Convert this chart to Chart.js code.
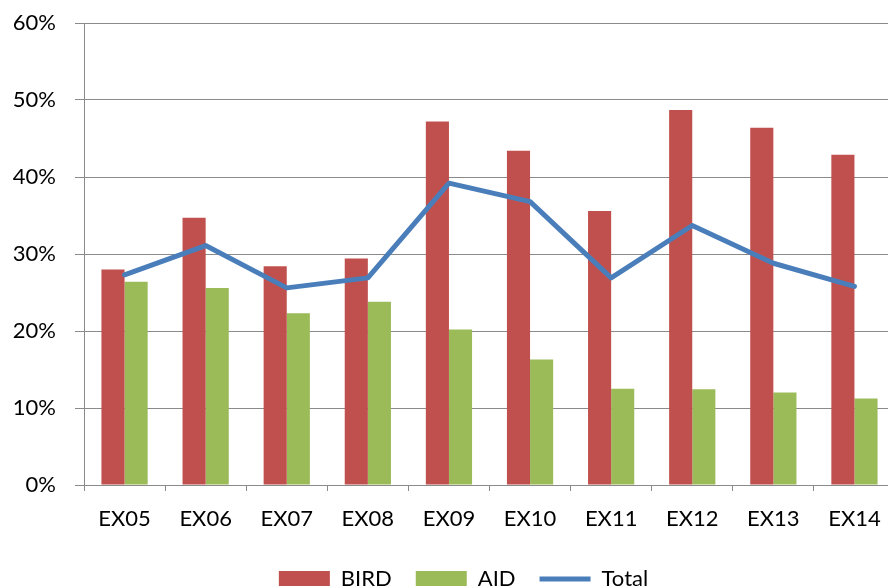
<!DOCTYPE html>
<html>
<head>
<meta charset="utf-8">
<script src="https://cdn.jsdelivr.net/npm/chart.js@4/dist/chart.umd.min.js"></script>
<style>
  html, body { margin:0; padding:0; background:#fff; overflow:hidden; }
  #wrap { width:900px; height:600px; }
</style>
</head>
<body>
<div id="wrap"><canvas id="chart" width="900" height="600"></canvas></div>
<script>
// data (percent)
const categories = ['EX05','EX06','EX07','EX08','EX09','EX10','EX11','EX12','EX13','EX14'];
const birdValues = [28.0, 34.7, 28.4, 29.4, 47.2, 43.4, 35.6, 48.7, 46.4, 42.9];
const aidValues  = [26.4, 25.6, 22.3, 23.8, 20.2, 16.3, 12.5, 12.45, 12.0, 11.25];
const totalValues = [27.3, 31.1, 25.6, 26.9, 39.2, 36.8, 26.9, 33.7, 28.8, 25.8];
const yTicks = [0, 10, 20, 30, 40, 50, 60];
const legendOrder = ['BIRD', 'AID', 'Total'];

const font = { family: 'Lato, "Open Sans", sans-serif', size: 22 };
const gridGrey = '#8a8a8a';

// nudge the legend a bit to the right, like the original
const legendShift = {
  id: 'legendShift',
  afterLayout(chart) {
    chart.legend.left += 16;
    chart.legend.right += 16;
  }
};

new Chart(document.getElementById('chart'), {
  type: 'bar',
  data: {
    labels: categories,
    datasets: [
      { type:'line', label:'Total', data: totalValues, borderColor:'#4a7ebb', backgroundColor:'#4a7ebb',
        borderWidth:5, borderCapStyle:'round', borderJoinStyle:'round', pointRadius:0, tension:0,
        pointStyle:'line', order:0 },
      { label:'BIRD', data: birdValues, backgroundColor:'#c0504d', borderWidth:0, pointStyle:'rect', order:1 },
      { label:'AID', data: aidValues, backgroundColor:'#9bbb59', borderWidth:0, pointStyle:'rect', order:2 }
    ]
  },
  options: {
    responsive:false,
    animation:false,
    layout: { padding: { top:23, right:5, left:0, bottom:0 } },
    datasets: { bar: { categoryPercentage:0.57, barPercentage:1.0 } },
    scales: {
      x: {
        offset:true,
        grid: { offset:true, drawOnChartArea:false, drawTicks:true, tickLength:6, color:gridGrey, lineWidth:1 },
        border: { color:gridGrey, width:1 },
        ticks: { color:'#000', font, padding:15, maxRotation:0 },
        afterFit(scale) { scale.height = 59; }
      },
      y: {
        min:0, max:60,
        afterBuildTicks(scale) { scale.ticks = yTicks.map(v => ({ value:v })); },
        grid: { color:gridGrey, lineWidth:1, tickLength:9 },
        border: { color:gridGrey, width:1 },
        ticks: { color:'#000', font, padding:19, callback: v => v + '%' },
        afterFit(scale) { scale.width = 84; scale.paddingTop = 0; scale.paddingBottom = 0; }
      }
    },
    plugins: {
      tooltip: { enabled:false },
      legend: {
        position:'bottom',
        labels: {
          color:'#000', font, usePointStyle:true, pointStyleWidth:51, boxHeight:16, padding:24,
          sort: (a, b) => legendOrder.indexOf(a.text) - legendOrder.indexOf(b.text)
        }
      }
    }
  },
  plugins: [legendShift]
});
</script>
</body>
</html>
